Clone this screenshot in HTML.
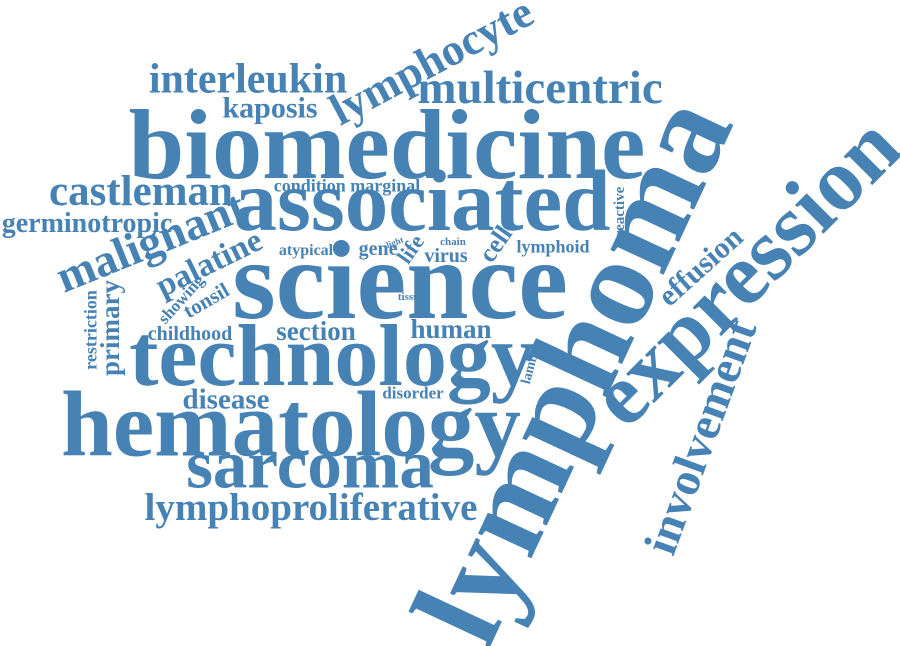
<!DOCTYPE html>
<html><head><meta charset="utf-8"><style>
html,body{margin:0;padding:0;background:#fff;width:900px;height:646px;overflow:hidden}
svg text{font-family:"Liberation Serif",serif;font-weight:bold;fill:#4682b4}
</style></head><body>
<svg id="cloud" width="900" height="646" viewBox="0 0 900 646" xmlns="http://www.w3.org/2000/svg"></svg>
<script>
const words = ["lymphoma","expression","involvement","effusion","lymphocyte","malignant","palatine","primary","restriction","showing","tonsil","light","life","zone","cell","reactive","lambda","biomedicine","science","associated","technology","hematology","sarcoma","lymphoproliferative","multicentric","interleukin","kaposis","castleman","germinotropic","childhood","disease","condition marginal","atypical","gene","chain","virus","lymphoid","tissue","section","human","disorder"];
const sizes = [128,88,47,30,45,46,33,27,18,17,21,9,22,9,26,15,14,100,112,87,88,93,69,39,47,42,30,43,28,20,29,18,16,20,11,20,18,11,27,27,17];
const cx = [582,750,704,702,433,152,210,112,92,182,207,395,412,418,497,620,532,387,400,422,332,291,310,311,540,248,270,141,87,190,226,347,306,378,453,446,553,411,316,451,413];
const cy = [374,276,438,268,64,245,265,328,330,300,302,243,250,282,245,212,362,153,290,208,363,432,470,510,91,82,110,194,225,335,401,187,251,250,242,257,248,297,333,331,394];
const rot = [-65,-45,-70,-42,-28,-22,-26,-90,-90,-48,-30,-20,-55,-90,-55,-90,-75,0,0,0,0,0,0,0,0,0,0,0,0,0,0,0,0,0,0,0,0,0,0,0,0];
const svg = document.getElementById('cloud');
const NS = "http://www.w3.org/2000/svg";
for (let i = 0; i < words.length; i++) {
  const t = document.createElementNS(NS, 'text');
  const th = rot[i] * Math.PI / 180;
  const ux = Math.sin(th), uy = -Math.cos(th);
  const bx = cx[i] - 0.25 * sizes[i] * ux;
  const by = cy[i] - 0.25 * sizes[i] * uy;
  t.setAttribute('x', 0);
  t.setAttribute('y', 0);
  t.setAttribute('text-anchor', 'middle');
  t.setAttribute('font-size', sizes[i]);
  t.setAttribute('transform', 'translate(' + bx.toFixed(1) + ',' + by.toFixed(1) + ') rotate(' + rot[i] + ')');
  t.textContent = words[i];
  
  
  svg.appendChild(t);
}
</script>
</body></html>
